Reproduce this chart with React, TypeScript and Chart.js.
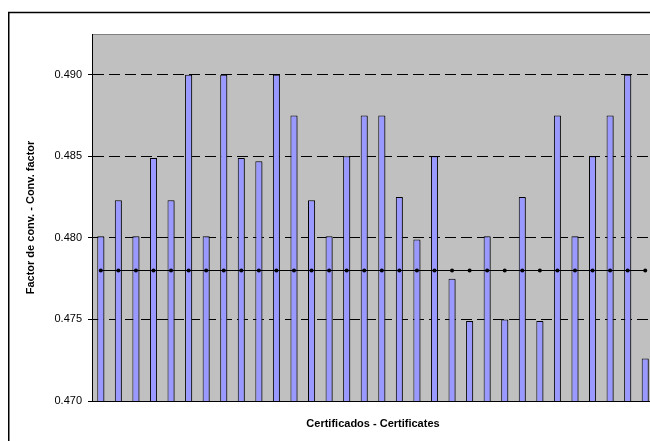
import React, { useEffect, useRef } from "react";
import { Chart, registerables } from "chart.js";

Chart.register(...registerables);

const certificates = [
  "1", "2", "3", "4", "5", "6", "7", "8", "9", "10", "11", "12", "13", "14", "15", "16",
  "17", "18", "19", "20", "21", "22", "23", "24", "25", "26", "27", "28", "29", "30", "31", "32",
];

const conversionFactors = [
  0.4801, 0.4823, 0.4801, 0.4849, 0.4823, 0.4900, 0.4801, 0.4900,
  0.4849, 0.4847, 0.4900, 0.4875, 0.4823, 0.4801, 0.4850, 0.4875,
  0.4875, 0.4825, 0.4799, 0.4850, 0.4775, 0.4749, 0.4801, 0.4750,
  0.4825, 0.4749, 0.4875, 0.4801, 0.4850, 0.4875, 0.4900, 0.4726,
];

const referenceFactor = [
  0.478, 0.478, 0.478, 0.478, 0.478, 0.478, 0.478, 0.478,
  0.478, 0.478, 0.478, 0.478, 0.478, 0.478, 0.478, 0.478,
  0.478, 0.478, 0.478, 0.478, 0.478, 0.478, 0.478, 0.478,
  0.478, 0.478, 0.478, 0.478, 0.478, 0.478, 0.478, 0.478,
];

const yTickValues = [0.47, 0.475, 0.48, 0.485, 0.49];
const yMin = 0.47;
const yMax = 0.4925;

const yTitle = "Factor de conv. - Conv. factor";
const xTitle = "Certificados - Certificates";

const FONT = "'Liberation Sans', Arial, sans-serif";

const decorPlugin = {
  id: "decor",
  beforeDraw(chart: any) {
    const { ctx, chartArea } = chart;
    ctx.save();
    ctx.fillStyle = "#FFFFFF";
    ctx.fillRect(0, 0, chart.width, chart.height);
    ctx.strokeStyle = "#000000";
    ctx.lineWidth = 1.5;
    ctx.strokeRect(0.75, 4.5, chart.width + 20, chart.height + 20);
    ctx.fillStyle = "#C0C0C0";
    ctx.fillRect(chartArea.left, chartArea.top, chartArea.right - chartArea.left, chartArea.bottom - chartArea.top);
    ctx.strokeStyle = "#808080";
    ctx.lineWidth = 1;
    ctx.beginPath();
    ctx.moveTo(chartArea.left, chartArea.top + 0.5);
    ctx.lineTo(chartArea.right, chartArea.top + 0.5);
    ctx.moveTo(chartArea.right - 0.5, chartArea.top);
    ctx.lineTo(chartArea.right - 0.5, chartArea.bottom);
    ctx.stroke();
    ctx.restore();
  },
  beforeDatasetDraw(chart: any, args: any) {
    if (args.index === 0) {
      const ctx = chart.ctx;
      ctx.save();
      ctx.shadowColor = "rgba(40,40,40,0.55)";
      ctx.shadowOffsetX = 2;
      ctx.shadowOffsetY = 1;
      ctx.shadowBlur = 0;
    }
  },
  afterDatasetDraw(chart: any, args: any) {
    if (args.index === 0) {
      chart.ctx.restore();
    }
  },
  afterDraw(chart: any) {
    const { ctx, chartArea } = chart;
    ctx.save();
    ctx.fillStyle = "#000000";
    ctx.font = `bold 11px ${FONT}`;
    ctx.textAlign = "center";
    ctx.textBaseline = "middle";
    ctx.fillText(xTitle, (chartArea.left + chartArea.right) / 2, 416);
    ctx.translate(23, (chartArea.top + chartArea.bottom) / 2);
    ctx.rotate(-Math.PI / 2);
    ctx.fillText(yTitle, 0, 0);
    ctx.restore();
  },
};

export default function App() {
  const canvasRef = useRef<HTMLCanvasElement | null>(null);

  useEffect(() => {
    if (!canvasRef.current) return;
    const chart = new Chart(canvasRef.current, {
      type: "bar",
      data: {
        labels: certificates,
        datasets: [
          {
            type: "bar",
            label: "Factor",
            data: conversionFactors,
            backgroundColor: "#9999FF",
            borderColor: "#000000",
            borderWidth: 1,
            barPercentage: 0.4,
            categoryPercentage: 1,
            order: 2,
          },
          {
            type: "line",
            label: "Reference",
            data: referenceFactor,
            borderColor: "#000000",
            borderWidth: 1,
            pointRadius: 2,
            pointBackgroundColor: "#000000",
            pointBorderWidth: 0,
            pointStyle: "circle",
            order: 1,
          },
        ] as any,
      },
      options: {
        animation: false,
        responsive: false,
        devicePixelRatio: 1,
        layout: { padding: { left: 0, top: 26, right: 14, bottom: 0 } },
        plugins: {
          legend: { display: false },
          tooltip: { enabled: false },
          title: { display: false },
        },
        scales: {
          x: {
            grid: { display: false },
            border: { display: true, color: "#000000", width: 1 },
            ticks: { display: false },
            afterFit(scale: any) {
              scale.height = 40;
            },
          },
          y: {
            min: yMin,
            max: yMax,
            afterBuildTicks(scale: any) {
              scale.ticks = yTickValues.map((v) => ({ value: v }));
            },
            ticks: {
              color: "#000000",
              font: { family: FONT, size: 11 },
              padding: 6,
              callback: (v: any) => Number(v).toFixed(3),
            },
            grid: {
              color: "#000000",
              lineWidth: 1,
              tickLength: 4,
              tickColor: "#000000",
              tickBorderDash: [],
            },
            border: { display: true, color: "#000000", width: 1, dash: [11, 5] },
            afterFit(scale: any) {
              scale.width = 84;
            },
          },
        },
      } as any,
      plugins: [decorPlugin],
    });
    return () => chart.destroy();
  }, []);

  return (
    <div style={{ position: "fixed", left: 8, top: 8, width: 660, height: 433 }}>
      <canvas ref={canvasRef} width={660} height={433} style={{ width: 660, height: 433, display: "block" }} />
    </div>
  );
}
